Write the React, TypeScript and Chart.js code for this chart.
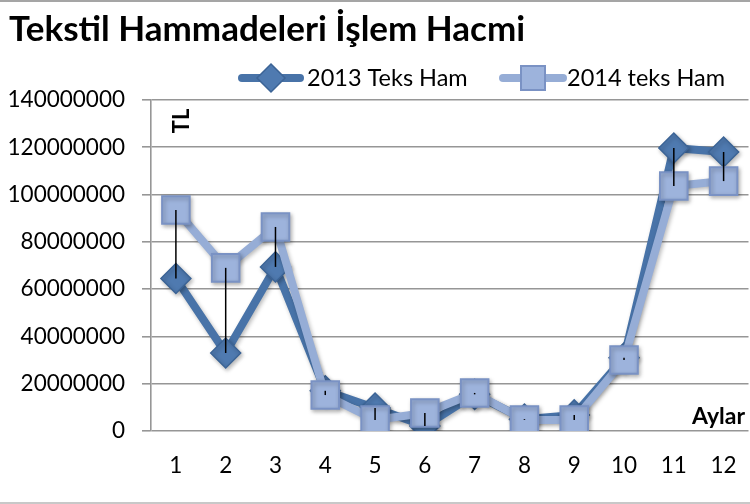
import { useEffect, useRef } from "react";
import { Chart, registerables } from "chart.js";

Chart.register(...registerables);

const titleText = "Tekstil Hammadeleri İşlem Hacmi";
const yAxisTitle = "TL";
const xAxisTitle = "Aylar";
const months = ["1", "2", "3", "4", "5", "6", "7", "8", "9", "10", "11", "12"];
const seriesNames = ["2013 Teks Ham", "2014 teks Ham"];
const series2013 = [64500000, 33000000, 69400000, 17000000, 9700000, 2100000, 15500000, 5000000, 6800000, 31000000, 119700000, 118000000];
const series2014 = [93500000, 69000000, 86300000, 15200000, 4650000, 7600000, 16100000, 4650000, 4650000, 30000000, 103600000, 105700000];
const yMin = 0;
const yMax = 140000000;
const yStep = 20000000;

const C2013_LINE = "rgb(72,115,168)";
const C2013_FILL = "rgb(79,122,176)";
const C2013_EDGE = "rgb(60,100,150)";
const C2014_LINE = "rgb(150,173,214)";
const C2014_FILL = "rgb(157,179,220)";
const C2014_EDGE = "rgb(122,146,196)";

const FONT = "Lato, 'Open Sans', sans-serif";

function drawDiamond(ctx: CanvasRenderingContext2D, x: number, y: number, r: number) {
  ctx.beginPath();
  ctx.moveTo(x, y - r);
  ctx.lineTo(x + r, y);
  ctx.lineTo(x, y + r);
  ctx.lineTo(x - r, y);
  ctx.closePath();
  ctx.fillStyle = C2013_FILL;
  ctx.fill();
  ctx.lineWidth = 1.5;
  ctx.strokeStyle = C2013_EDGE;
  ctx.stroke();
}

function drawSquare(ctx: CanvasRenderingContext2D, x: number, y: number, h: number) {
  ctx.beginPath();
  ctx.rect(x - h, y - h, 2 * h, 2 * h);
  ctx.fillStyle = C2014_FILL;
  ctx.fill();
  ctx.lineWidth = 2;
  ctx.strokeStyle = C2014_EDGE;
  ctx.stroke();
}

const extrasPlugin = {
  id: "extras",
  beforeDatasetDraw(chart: any) {
    const ctx = chart.ctx;
    ctx.save();
    ctx.shadowColor = "rgba(0,0,0,0.28)";
    ctx.shadowBlur = 4;
    ctx.shadowOffsetX = 1.5;
    ctx.shadowOffsetY = 2;
  },
  afterDatasetDraw(chart: any) {
    chart.ctx.restore();
  },
  afterDatasetsDraw(chart: any) {
    const ctx = chart.ctx;
    const x = chart.scales.x;
    const y = chart.scales.y;
    ctx.save();
    ctx.strokeStyle = "#000";
    ctx.lineWidth = 1.5;
    months.forEach((_, i) => {
      const px = x.getPixelForValue(i);
      const hi = Math.max(series2013[i], series2014[i]);
      const lo = Math.min(series2013[i], series2014[i]);
      ctx.beginPath();
      ctx.moveTo(px, y.getPixelForValue(hi));
      ctx.lineTo(px, y.getPixelForValue(lo));
      ctx.stroke();
    });
    ctx.restore();
  },
  afterDraw(chart: any) {
    const ctx = chart.ctx;
    ctx.save();
    // frame lines
    ctx.fillStyle = "rgb(165,165,165)";
    ctx.fillRect(0, 0, chart.width, 2);
    ctx.fillStyle = "rgb(200,200,200)";
    ctx.fillRect(0, 502, chart.width, 2);

    // title
    ctx.fillStyle = "#000";
    ctx.font = `bold 35px ${FONT}`;
    ctx.textAlign = "left";
    ctx.textBaseline = "alphabetic";
    ctx.fillText(titleText, 9, 41);

    // legend
    const ly = 78;
    ctx.lineCap = "round";
    ctx.lineWidth = 8;
    ctx.strokeStyle = C2013_LINE;
    ctx.beginPath();
    ctx.moveTo(242, ly);
    ctx.lineTo(300, ly);
    ctx.stroke();
    drawDiamond(ctx, 271, ly, 14);
    ctx.strokeStyle = C2014_LINE;
    ctx.lineWidth = 8;
    ctx.beginPath();
    ctx.moveTo(503, ly);
    ctx.lineTo(563, ly);
    ctx.stroke();
    drawSquare(ctx, 533, ly, 12);
    ctx.fillStyle = "#000";
    ctx.font = `23.5px ${FONT}`;
    ctx.textAlign = "left";
    ctx.textBaseline = "middle";
    ctx.fillText(seriesNames[0], 307, ly);
    ctx.fillText(seriesNames[1], 567, ly);

    // axis titles
    ctx.font = `bold 22px ${FONT}`;
    ctx.save();
    ctx.translate(182, 121);
    ctx.rotate(-Math.PI / 2);
    ctx.textAlign = "center";
    ctx.textBaseline = "middle";
    ctx.fillText(yAxisTitle, 0, 0);
    ctx.restore();
    ctx.font = `bold 23px ${FONT}`;
    ctx.textAlign = "right";
    ctx.textBaseline = "alphabetic";
    ctx.fillText(xAxisTitle, 745, 424);
    ctx.restore();
  },
};

export default function App() {
  const ref = useRef<HTMLCanvasElement | null>(null);
  useEffect(() => {
    if (!ref.current) return;
    const chart = new Chart(ref.current, {
      type: "line",
      data: {
        labels: months,
        datasets: [
          {
            label: seriesNames[0],
            data: series2013,
            order: 2,
            borderColor: C2013_LINE,
            borderWidth: 8,
            borderJoinStyle: "round",
            borderCapStyle: "round",
            pointStyle: "rectRot",
            pointRadius: 15,
            pointBackgroundColor: C2013_FILL,
            pointBorderColor: C2013_EDGE,
            pointBorderWidth: 1.5,
            tension: 0,
          },
          {
            label: seriesNames[1],
            data: series2014,
            order: 1,
            borderColor: C2014_LINE,
            borderWidth: 8,
            borderJoinStyle: "round",
            borderCapStyle: "round",
            pointStyle: "rect",
            pointRadius: 19.5,
            pointBackgroundColor: C2014_FILL,
            pointBorderColor: C2014_EDGE,
            pointBorderWidth: 2,
            tension: 0,
          },
        ],
      },
      options: {
        responsive: false,
        animation: false,
        devicePixelRatio: 1,
        layout: { padding: { left: 0, right: 13, top: 100, bottom: 0 } },
        plugins: {
          legend: { display: false },
          title: { display: false },
          tooltip: { enabled: false },
        },
        scales: {
          x: {
            type: "category",
            offset: true,
            grid: { display: false, drawTicks: false },
            border: { display: false },
            ticks: {
              color: "#000",
              font: { family: FONT, size: 22.5 },
              padding: 21,
              autoSkip: false,
              maxRotation: 0,
            },
            afterFit(scale: any) {
              scale.height = 73;
            },
          },
          y: {
            min: yMin,
            max: yMax,
            grid: { color: "rgb(150,150,150)", lineWidth: 1.6, tickLength: 9 },
            border: { display: true, color: "rgb(150,150,150)", width: 1.6 },
            ticks: {
              stepSize: yStep,
              color: "#000",
              font: { family: FONT, size: 22.5 },
              padding: 17,
              callback: (v: any) => String(v),
            },
            afterFit(scale: any) {
              scale.width = 151;
            },
          },
        },
      },
      plugins: [extrasPlugin],
    } as any);
    return () => chart.destroy();
  }, []);
  return (
    <div
      style={{
        position: "fixed",
        left: 0,
        top: 0,
        width: 750,
        height: 504,
        overflow: "hidden",
        background: "#fff",
      }}
    >
      <canvas ref={ref} width={770} height={504} style={{ display: "block" }} />
    </div>
  );
}
